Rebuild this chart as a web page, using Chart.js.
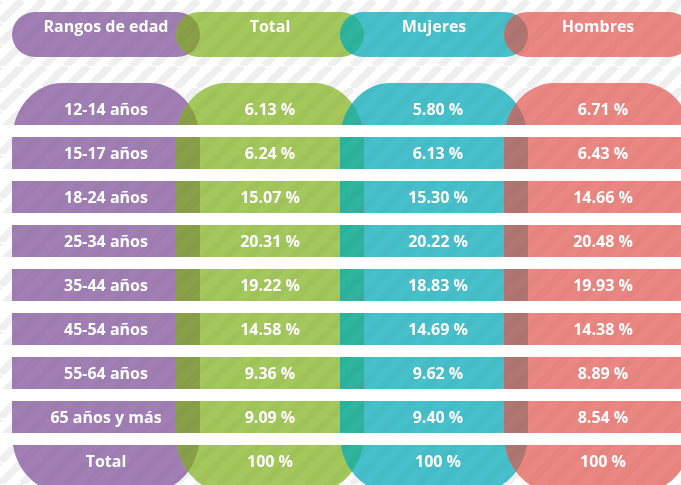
<!DOCTYPE html>
<html>
<head>
<meta charset="utf-8">
<script src="https://cdn.jsdelivr.net/npm/chart.js@4.4.1/dist/chart.umd.min.js"></script>
<style>
  html, body { margin: 0; padding: 0; background: #fff; }
  #wrap { width: 681px; height: 485px; }
</style>
</head>
<body>
<div id="wrap"><canvas id="g-edades"></canvas></div>
<script>
// datos
var columnas = ['Rangos de edad', 'Total', 'Mujeres', 'Hombres'];
var rangos = ['12-14 años', '15-17 años', '18-24 años', '25-34 años', '35-44 años',
              '45-54 años', '55-64 años', '65 años y más', 'Total'];
var total   = [6.13, 6.24, 15.07, 20.31, 19.22, 14.58, 9.36, 9.09, 100];
var mujeres = [5.80, 6.13, 15.30, 20.22, 18.83, 14.69, 9.62, 9.40, 100];
var hombres = [6.71, 6.43, 14.66, 20.48, 19.93, 14.38, 8.89, 8.54, 100];

// estilos
var colores = ['#a17fb5', '#a4c85c', '#47c0cb', '#eb8782'];
var cruces  = ['#8aa048', '#2fb59e', '#b27672'];
var radios  = [[23, 23], [50, 58]];  // esquinas (ancho, alto) de pastillas y columnas
var CABECERA = [-2.216, -1.193];     // alto de las pastillas de arriba (unidades de fila)
var CUERPO   = [-0.602, 8.693];      // alto de las columnas
var Y_TITULO = -1.875;

function fmt(v) {
  return v === 100 ? '100 %' : v.toFixed(2) + ' %';
}

function rayas(ctx, color) {
  var c = document.createElement('canvas');
  c.width = c.height = 22;
  var g = c.getContext('2d');
  g.strokeStyle = color;
  g.lineWidth = 7.5;
  for (var k = -1; k <= 1; k++) {
    g.beginPath();
    g.moveTo(k * 22, 22);
    g.lineTo(k * 22 + 22, 0);
    g.stroke();
  }
  return ctx.createPattern(c, 'repeat');
}

// contorno de una barra con esquinas elipticas
function trazo(ctx, el, r) {
  var p = el.getProps(['x', 'y', 'base', 'width'], true);
  var y0 = Math.min(p.y, p.base), h = Math.abs(p.base - p.y);
  var x0 = p.x - p.width / 2, w = p.width;
  var rx = Math.min(r[0], w / 2), ry = Math.min(r[1], h / 2);
  var P = Math.PI;
  ctx.beginPath();
  ctx.moveTo(x0 + rx, y0);
  ctx.lineTo(x0 + w - rx, y0);
  ctx.ellipse(x0 + w - rx, y0 + ry, rx, ry, 0, -P / 2, 0);
  ctx.lineTo(x0 + w, y0 + h - ry);
  ctx.ellipse(x0 + w - rx, y0 + h - ry, rx, ry, 0, 0, P / 2);
  ctx.lineTo(x0 + rx, y0 + h);
  ctx.ellipse(x0 + rx, y0 + h - ry, rx, ry, 0, P / 2, P);
  ctx.lineTo(x0, y0 + ry);
  ctx.ellipse(x0 + rx, y0 + ry, rx, ry, 0, P, 1.5 * P);
  ctx.closePath();
}

var fondo = {
  id: 'fondo',
  beforeDraw: function (chart) {
    var ctx = chart.ctx;
    ctx.save();
    ctx.fillStyle = '#fff';
    ctx.fillRect(0, 0, chart.width, chart.height);
    ctx.fillStyle = rayas(ctx, 'rgba(0,0,0,0.04)');
    ctx.fillRect(0, 0, chart.width, chart.height);
    ctx.restore();
  },
  beforeDatasetDraw: function (chart, args) {
    var ctx = chart.ctx, d = args.index;
    ctx.save();
    args.meta.data.forEach(function (el, i) {
      trazo(ctx, el, radios[d]);
      ctx.fillStyle = colores[i];
      ctx.fill();
    });
    ctx.restore();
    return false;
  },
  afterDatasetsDraw: function (chart) {
    var ctx = chart.ctx;
    // zonas donde se cruzan dos columnas
    [0, 1].forEach(function (d) {
      var els = chart.getDatasetMeta(d).data;
      for (var i = 0; i < els.length - 1; i++) {
        ctx.save();
        trazo(ctx, els[i], radios[d]);
        ctx.clip();
        trazo(ctx, els[i + 1], radios[d]);
        ctx.fillStyle = cruces[i];
        ctx.fill();
        ctx.restore();
      }
    });
    ctx.save();
    ctx.fillStyle = rayas(ctx, 'rgba(0,0,0,0.022)');
    ctx.fillRect(0, 0, chart.width, chart.height);
    ctx.restore();
  }
};

var textos = {
  id: 'textos',
  afterDraw: function (chart) {
    var ctx = chart.ctx, fx = chart.scales.x, fy = chart.scales.y;
    ctx.save();
    ctx.fillStyle = '#fff';
    ctx.textAlign = 'center';
    ctx.textBaseline = 'middle';
    ctx.font = 'bold 16px "Open Sans"';
    columnas.forEach(function (c, i) {
      ctx.fillText(c, fx.getPixelForValue(i), fy.getPixelForValue(Y_TITULO));
    });
    rangos.forEach(function (r, f) {
      var y = fy.getPixelForValue(f) + 1;
      ctx.fillText(r, fx.getPixelForValue(0), y);
      ctx.fillText(fmt(total[f]), fx.getPixelForValue(1), y);
      ctx.fillText(fmt(mujeres[f]), fx.getPixelForValue(2) + 4, y);
      ctx.fillText(fmt(hombres[f]), fx.getPixelForValue(3) + 5, y);
    });
    ctx.restore();
  }
};

var idhtml = document.getElementById('g-edades').getContext('2d');
var g_tabla = new Chart(idhtml, {
  type: 'bar',
  data: {
    datasets: [{
      label: 'cabecera',
      data: columnas.map(function (c, i) { return { x: i, y: CABECERA }; }),
      backgroundColor: colores,
    }, {
      label: 'columnas',
      data: columnas.map(function (c, i) { return { x: i, y: CUERPO }; }),
      backgroundColor: colores,
    }]
  },
  options: {
    responsive: true,
    maintainAspectRatio: false,
    animation: false,
    layout: { padding: 0 },
    datasets: {
      bar: {
        grouped: false,
        barThickness: 188,
        borderSkipped: false,
        inflateAmount: 0
      }
    },
    plugins: { legend: { display: false }, tooltip: { enabled: false } },
    scales: {
      x: {
        type: 'linear',
        min: -0.6463,
        max: 3.5061,
        offset: false,
        display: false
      },
      y: {
        type: 'linear',
        reverse: true,
        min: -2.4886,
        max: 8.5341,
        afterBuildTicks: function (axis) {
          axis.ticks = rangos.slice(1).map(function (r, i) { return { value: i + 0.5 }; });
        },
        ticks: { display: false },
        border: { display: false },
        grid: { color: '#fff', lineWidth: 12, z: 1, drawTicks: false }
      }
    }
  },
  plugins: [fondo, textos]
});
</script>
</body>
</html>
